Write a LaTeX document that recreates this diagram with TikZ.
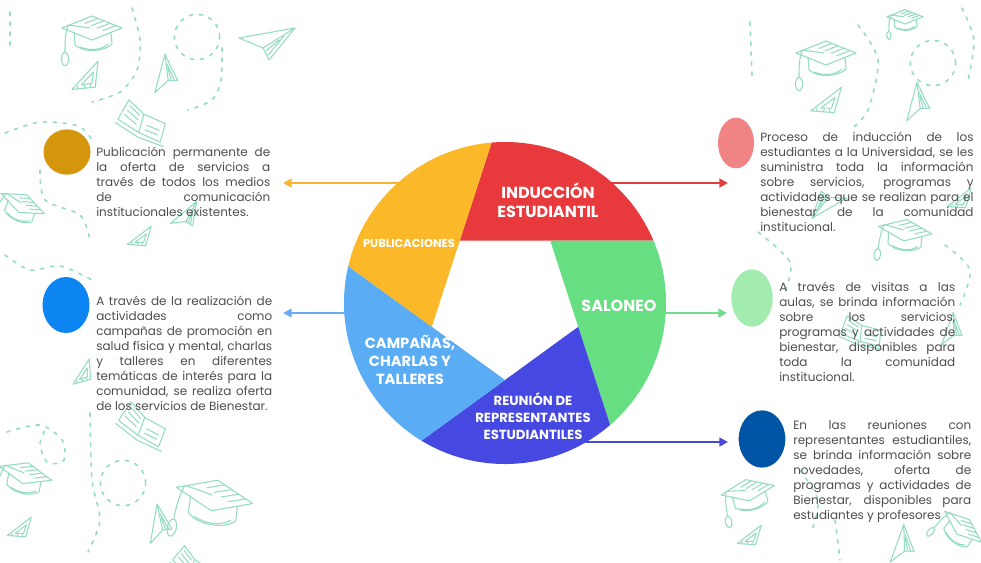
\documentclass[tikz,border=0pt]{standalone}
\usepackage{fontspec}
\setmainfont{Poppins}
\usetikzlibrary{calc,arrows.meta}

\definecolor{pieYellow}{RGB}{251,185,42}
\definecolor{pieRed}{RGB}{232,57,60}
\definecolor{pieGreen}{RGB}{104,222,130}
\definecolor{pieNavy}{RGB}{70,72,226}
\definecolor{pieSky}{RGB}{90,172,245}
\definecolor{arrYellow}{RGB}{246,180,50}
\definecolor{arrRed}{RGB}{226,62,62}
\definecolor{arrGreen}{RGB}{112,220,140}
\definecolor{arrNavy}{RGB}{74,74,216}
\definecolor{arrSky}{RGB}{104,172,238}
\definecolor{dotOchre}{RGB}{212,150,12}
\definecolor{dotAzure}{RGB}{12,132,242}
\definecolor{dotRose}{RGB}{240,132,132}
\definecolor{dotMint}{RGB}{162,236,176}
\definecolor{dotCobalt}{RGB}{0,84,166}
\definecolor{mint}{RGB}{150,220,196}
\definecolor{ink}{RGB}{78,78,78}

% one justified line of a description block
\newcommand{\jl}[1]{\makebox[\linewidth][s]{#1}\\}

\tikzset{
  doodle/.style={draw=mint, line width=0.8pt, line join=round, line cap=round},
  trail/.style={draw=mint, line width=1.2pt, line cap=round, dash pattern=on 2.5pt off 5pt},
  blurb/.style={anchor=base west, inner sep=0pt, text=ink, font=\fontsize{9}{11.25}\selectfont},
  segtext/.style={text=white, align=center, inner sep=0pt, font=\bfseries\fontsize{12}{14.5}\selectfont},
  dotmark/.style={inner sep=0pt},
  arrowline/.style={line width=1.7pt, -{Triangle[length=6.5pt,width=6.5pt]}},
  pics/gradcap/.style={code={
    \draw[doodle] (-30,-2) -- (0,-14) -- (30,-2) -- (0,10) -- cycle;
    \draw[doodle] (6,-11.6) -- (-7,-6.6) (12,-9.2) -- (-1,-4.2) (18,-6.8) -- (5,-1.8) (24,-4.4) -- (11,0.6);
    \draw[doodle] (-18,2) -- (-17,15) .. controls (-8,23) and (12,22) .. (20,14) -- (19,3);
    \draw[doodle] (-12,17) .. controls (-2,21) and (10,20) .. (16,14);
    \draw[doodle] (-2,-2) -- (-24,-5) .. controls (-27,5) and (-27,14) .. (-27,22);
    \draw[doodle] (-27,29) ellipse [x radius=2.6pt, y radius=5pt];
  }},
  pics/plane/.style={code={
    \draw[doodle] (-28,0) -- (28,-10) -- (-4,10) -- cycle;
    \draw[doodle] (28,-10) -- (2,22) -- (-4,10);
    \draw[doodle] (-1,13) -- (12,2) (1,17) -- (17,-2);
  }},
  pics/setsquare/.style={code={
    \draw[doodle] (-18,12) -- (16,-14) -- (8,14) -- cycle;
    \draw[doodle] (-7,9) -- (9,-3) -- (5,9) -- cycle;
    \draw[doodle] (-12,12.5) -- (-11,9) (-4,13) -- (-3,10) (3,13.5) -- (3,10);
  }},
  pics/book/.style={code={
    \draw[doodle] (0,8) -- (-24,-2) -- (-16,-24) -- (2,-12) -- cycle;
    \draw[doodle] (0,8) -- (24,14) -- (26,-6) -- (2,-12);
    \draw[doodle] (-26,2) -- (0,13) -- (28,18);
    \draw[doodle] (-18,-8) -- (-4,0) (-16,-13) -- (-3,-5) (-14,-18) -- (-2,-10);
    \draw[doodle] (6,4) -- (20,7) (7,-1) -- (21,2);
  }},
}

\begin{document}
\begin{tikzpicture}[x=0.75pt,y=-0.75pt]
\useasboundingbox (0,0) rectangle (981,562);
\fill[white] (0,0) rectangle (981,562);

% ---------- background doodles, left band ----------
\pic at (92,30) {gradcap};
\pic[rotate=10,scale=0.9] at (86,76) {setsquare};
\pic[rotate=65,scale=0.7] at (163,75) {plane};
\draw[trail] (197,37) circle[radius=17pt];
\draw[trail] plot[smooth] coordinates {(222,48) (221,80) (212,100) (188,110)};
\draw[trail] plot[smooth] coordinates {(132,8) (140,40) (137,70) (120,92) (92,102)};
\pic at (267,38) {plane};
\pic[rotate=-10,scale=0.95] at (140,125) {book};
\draw[trail] plot[smooth] coordinates {(5,133) (40,122) (78,126) (92,140)};
\draw[trail] (10,12) -- (10,45);
\pic[rotate=-25,scale=0.8] at (22,205) {gradcap};
\pic[scale=0.7] at (140,236) {setsquare};
\pic[rotate=30,scale=0.6] at (185,215) {plane};
\draw[trail] plot[smooth] coordinates {(5,255) (30,270) (60,266) (92,280)};
\draw[trail] plot[smooth] coordinates {(40,170) (45,200) (80,215) (90,240)};
\pic[rotate=20,scale=0.7] at (82,372) {setsquare};
\pic[rotate=-15,scale=0.95] at (140,428) {book};
\draw[trail] plot[smooth] coordinates {(7,432) (40,425) (62,440) (64,460) (48,463) (40,445) (45,430)};
\pic[rotate=-15,scale=0.9] at (25,475) {gradcap};
\draw[trail] (123,483) circle[radius=17pt];
\pic[scale=0.7] at (20,527) {setsquare};
\pic[rotate=70,scale=0.7] at (157,525) {plane};
\pic[rotate=-12,scale=1.3] at (214,498) {gradcap};
\draw[trail] plot[smooth] coordinates {(90,413) (92,480) (100,520) (88,552)};
\pic[rotate=-20,scale=0.8] at (190,568) {book};

% ---------- background doodles, right band ----------
\pic at (826,55) {gradcap};
\draw[trail] (750,22) -- (752,75);
\draw[trail] (933,63) circle[radius=17pt];
\pic[scale=0.9] at (827,100) {setsquare};
\pic[rotate=65,scale=0.7] at (915,103) {plane};
\draw[trail] plot[smooth] coordinates {(858,25) (878,60) (868,110) (850,130)};
\pic[scale=0.6] at (905,18) {gradcap};
\draw[trail] plot[smooth] coordinates {(962,8) (974,40) (968,80)};
\pic[rotate=200,scale=0.7] at (828,205) {plane};
\pic[scale=0.9,rotate=-8] at (905,232) {gradcap};
\pic[scale=0.7] at (960,198) {setsquare};
\draw[trail] plot[smooth] coordinates {(945,245) (970,270) (960,305)};
\draw[trail] plot[smooth] coordinates {(758,232) (790,262) (785,292)};
\pic[scale=0.8] at (860,335) {book};
\pic[rotate=60,scale=0.6] at (950,330) {plane};
\pic[rotate=10,scale=0.9] at (748,492) {gradcap};
\pic[scale=0.7] at (750,535) {setsquare};
\pic[rotate=60,scale=0.7] at (900,545) {plane};
\pic[rotate=-40,scale=0.8] at (962,528) {gradcap};
\draw[trail] plot[smooth] coordinates {(835,520) (840,560)};
\draw[trail] plot[smooth] coordinates {(800,470) (818,500) (812,530)};

% ---------- connectors (behind the wheel) ----------
\coordinate (pubFrom) at (420,183);
\coordinate (pubTip) at (283,183);
\coordinate (indFrom) at (590,183);
\coordinate (indTip) at (728,183);
\coordinate (camFrom) at (380,313);
\coordinate (camTip) at (283,313);
\coordinate (salFrom) at (630,313);
\coordinate (salTip) at (727,313);
\coordinate (reuFrom) at (560,442);
\coordinate (reuTip) at (728,442);
\draw[arrowline, draw=arrYellow] (pubFrom) -- (pubTip);
\draw[arrowline, draw=arrRed] (indFrom) -- (indTip);
\draw[arrowline, draw=arrSky] (camFrom) -- (camTip);
\draw[arrowline, draw=arrGreen] (salFrom) -- (salTip);
\draw[arrowline, draw=arrNavy] (reuFrom) -- (reuTip);

% ---------- the wheel ----------
\coordinate (hub) at (505,303);
\node[circle, minimum size=241.5pt, inner sep=0pt] (wheel) at (hub) {};
\coordinate (vA) at ($(hub)+(234:77)$);
\coordinate (vB) at ($(hub)+(306:77)$);
\coordinate (vC) at ($(hub)+(18:77)$);
\coordinate (vD) at ($(hub)+(90:77)$);
\coordinate (vE) at ($(hub)+(162:77)$);
\begin{scope}
  \clip (hub) circle[radius=120.75pt];
  \fill[pieRed]    (vA) -- ($(vA)!-6!(vE)$) -- ($(vA)!6!(vB)$) -- cycle;
  \fill[pieGreen]  (vB) -- ($(vB)!-6!(vA)$) -- ($(vB)!6!(vC)$) -- cycle;
  \fill[pieNavy]   (vC) -- ($(vC)!-6!(vB)$) -- ($(vC)!6!(vD)$) -- cycle;
  \fill[pieSky]    (vD) -- ($(vD)!-6!(vC)$) -- ($(vD)!6!(vE)$) -- cycle;
  \fill[pieYellow] (vE) -- ($(vE)!-6!(vD)$) -- ($(vE)!6!(vA)$) -- cycle;
\end{scope}

\node[segtext] (induccion) at (548,200) {INDUCCIÓN\\ESTUDIANTIL};
\node[segtext, font=\bfseries\fontsize{8.6}{10}\selectfont] (publicaciones) at (409,243) {PUBLICACIONES};
\node[segtext] (saloneo) at (619,306) {SALONEO};
\node[segtext, font=\bfseries\fontsize{11}{13.4}\selectfont] (campanas) at (410,360) {CAMPAÑAS,\\CHARLAS Y\\TALLERES};
\node[segtext, font=\bfseries\fontsize{9.9}{13}\selectfont] (reunion) at (533,416) {REUNIÓN DE\\REPRESENTANTES\\ESTUDIANTILES};

% ---------- markers ----------
\fill[dotOchre]  (67,152)  ellipse[x radius=17.6pt, y radius=17pt];
\fill[dotAzure]  (66,305)  ellipse[x radius=17.6pt, y radius=21pt];
\fill[dotRose]   (736,143) ellipse[x radius=13.5pt, y radius=19pt];
\fill[dotMint]   (752,298) ellipse[x radius=15.5pt, y radius=21.5pt];
\fill[dotCobalt] (762,439) ellipse[x radius=17.5pt, y radius=21.5pt];
\node[dotmark] (pubDot) at (67,152) {};
\node[dotmark] (camDot) at (66,305) {};
\node[dotmark] (indDot) at (736,143) {};
\node[dotmark] (salDot) at (752,298) {};
\node[dotmark] (reuDot) at (762,439) {};

% ---------- descriptions ----------
\node[blurb] (pubText) at (96,156) {\parbox[t]{130.5pt}{%
\jl{Publicación permanente de}
\jl{la oferta de servicios a}
\jl{través de todos los medios}
\jl{de comunicación}
institucionales existentes.}};

\node[blurb] (camText) at (96,305) {\parbox[t]{132pt}{%
\jl{A través de la realización de}
\jl{actividades como}
\jl{campañas de promoción en}
\jl{salud física y mental, charlas}
\jl{y talleres en diferentes}
\jl{temáticas de interés para la}
\jl{comunidad, se realiza oferta}
de los servicios de Bienestar.}};

\node[blurb] (indText) at (760,141) {\parbox[t]{160pt}{%
\jl{Proceso de inducción de los}
\jl{estudiantes a la Universidad, se les}
\jl{suministra toda la información}
\jl{sobre servicios, programas y}
\jl{actividades que se realizan para el}
\jl{bienestar de la comunidad}
institucional.}};

\node[blurb] (salText) at (779,291) {\parbox[t]{132pt}{%
\jl{A través de visitas a las}
\jl{aulas, se brinda información}
\jl{sobre los servicios,}
\jl{programas y actividades de}
\jl{bienestar, disponibles para}
\jl{toda la comunidad}
institucional.}};

\node[blurb] (reuText) at (793,429) {\parbox[t]{133.5pt}{%
\jl{En las reuniones con}
\jl{representantes estudiantiles,}
\jl{se brinda información sobre}
\jl{novedades, oferta de}
\jl{programas y actividades de}
\jl{Bienestar, disponibles para}
estudiantes y profesores}};
\end{tikzpicture}
\end{document}
